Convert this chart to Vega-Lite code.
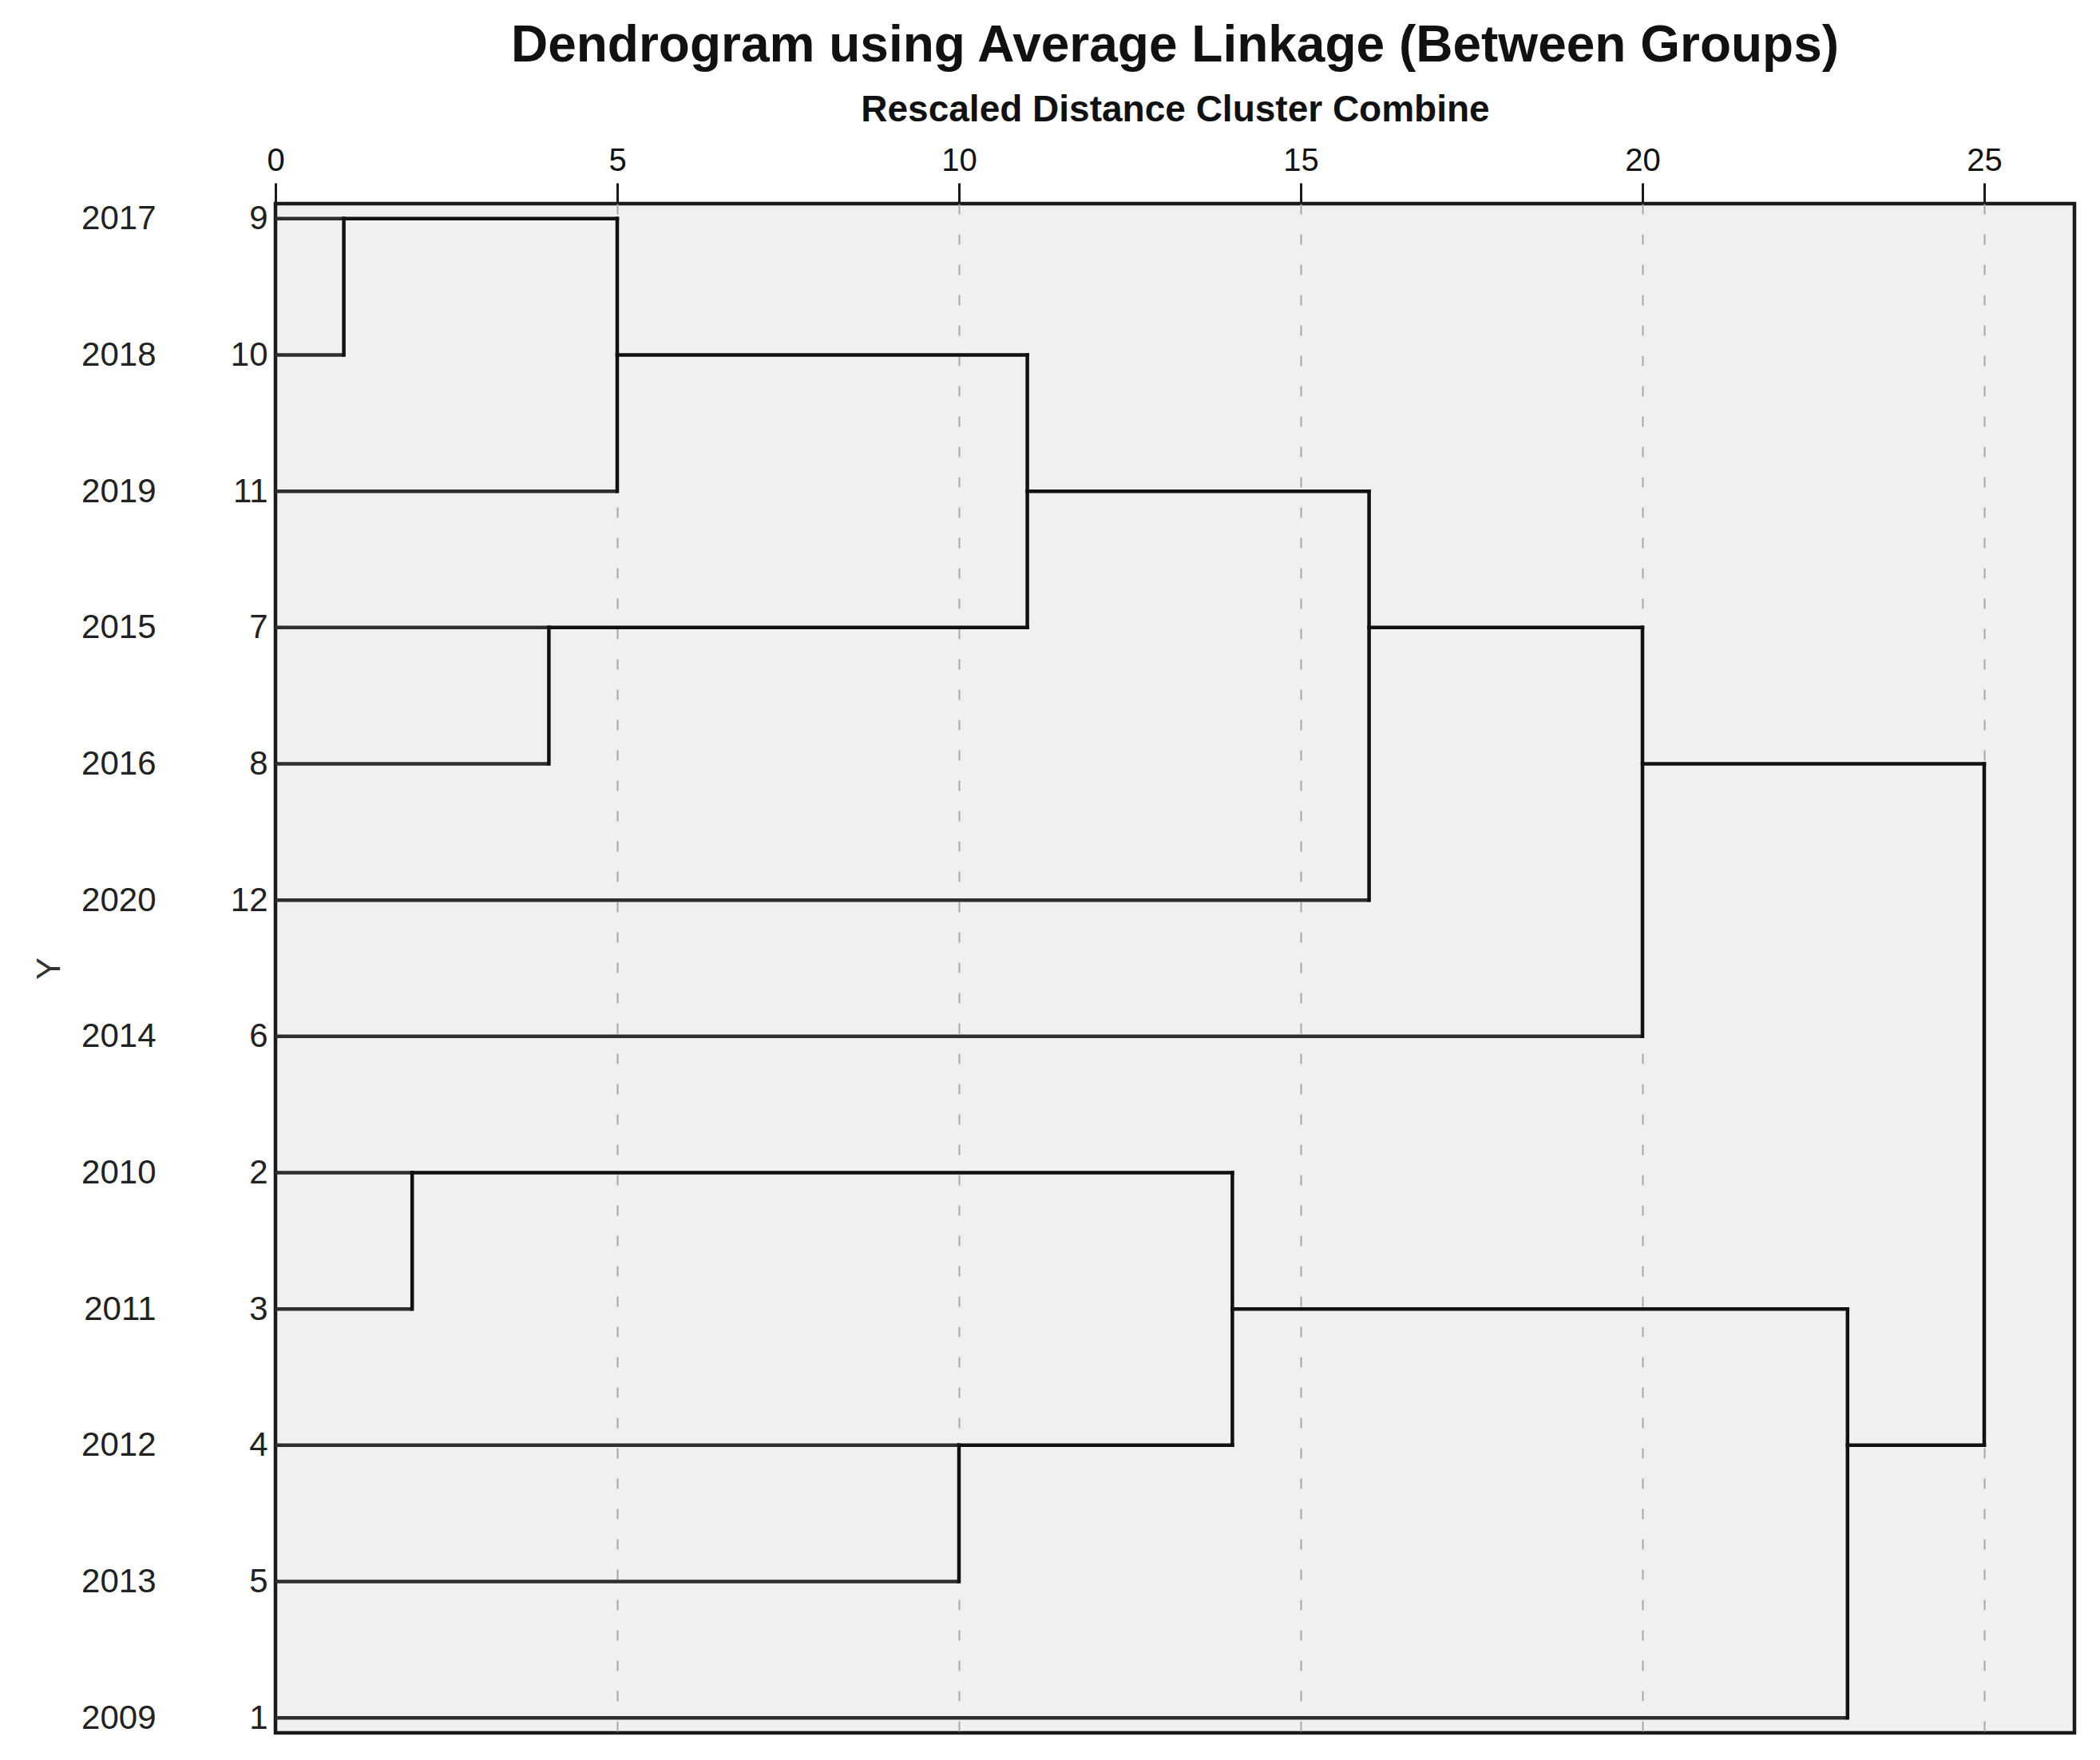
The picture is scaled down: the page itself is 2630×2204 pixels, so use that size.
{
  "$schema": "https://vega.github.io/schema/vega-lite/v6.json",
  "width": 2253,
  "height": 1915,
  "autosize": {"type": "none"},
  "padding": {"left": 345, "top": 255, "right": 32, "bottom": 34},
  "background": "white",
  "config": {
    "font": "Liberation Sans",
    "view": {"fill": "#f0f0f0", "stroke": "#1a1a1a", "strokeWidth": 4.5}
  },
  "title": {
    "text": "Dendrogram using Average Linkage (Between Groups)",
    "fontSize": 64,
    "fontWeight": "bold",
    "font": "Liberation Sans",
    "color": "#111111",
    "anchor": "middle",
    "frame": "group",
    "offset": 24
  },
  "datasets": {
    "leaves": [
      {"row": 1, "case": "9", "year": "2017", "x": 0, "x2": 1},
      {"row": 2, "case": "10", "year": "2018", "x": 0, "x2": 1},
      {"row": 3, "case": "11", "year": "2019", "x": 0, "x2": 5},
      {"row": 4, "case": "7", "year": "2015", "x": 0, "x2": 4},
      {"row": 5, "case": "8", "year": "2016", "x": 0, "x2": 4},
      {"row": 6, "case": "12", "year": "2020", "x": 0, "x2": 16},
      {"row": 7, "case": "6", "year": "2014", "x": 0, "x2": 20},
      {"row": 8, "case": "2", "year": "2010", "x": 0, "x2": 2},
      {"row": 9, "case": "3", "year": "2011", "x": 0, "x2": 2},
      {"row": 10, "case": "4", "year": "2012", "x": 0, "x2": 10},
      {"row": 11, "case": "5", "year": "2013", "x": 0, "x2": 10},
      {"row": 12, "case": "1", "year": "2009", "x": 0, "x2": 23}
    ],
    "links": [
      {"x": 1, "x2": 1, "from": "9", "to": "10"},
      {"x": 1, "x2": 5, "from": "9", "to": "9"},
      {"x": 5, "x2": 5, "from": "9", "to": "11"},
      {"x": 5, "x2": 11, "from": "10", "to": "10"},
      {"x": 4, "x2": 4, "from": "7", "to": "8"},
      {"x": 4, "x2": 11, "from": "7", "to": "7"},
      {"x": 11, "x2": 11, "from": "10", "to": "7"},
      {"x": 11, "x2": 16, "from": "11", "to": "11"},
      {"x": 16, "x2": 16, "from": "11", "to": "12"},
      {"x": 16, "x2": 20, "from": "7", "to": "7"},
      {"x": 20, "x2": 20, "from": "7", "to": "6"},
      {"x": 20, "x2": 25, "from": "8", "to": "8"},
      {"x": 2, "x2": 2, "from": "2", "to": "3"},
      {"x": 2, "x2": 14, "from": "2", "to": "2"},
      {"x": 10, "x2": 10, "from": "4", "to": "5"},
      {"x": 10, "x2": 14, "from": "4", "to": "4"},
      {"x": 14, "x2": 14, "from": "2", "to": "4"},
      {"x": 14, "x2": 23, "from": "3", "to": "3"},
      {"x": 23, "x2": 23, "from": "3", "to": "1"},
      {"x": 23, "x2": 25, "from": "4", "to": "4"},
      {"x": 25, "x2": 25, "from": "8", "to": "4"}
    ]
  },
  "encoding": {
    "x": {
      "field": "x",
      "type": "quantitative",
      "scale": {"domain": [0, 26.32], "nice": false, "zero": false},
      "axis": {
        "orient": "top",
        "values": [0, 5, 10, 15, 20, 25],
        "format": "d",
        "title": "Rescaled Distance Cluster Combine",
        "titleFontSize": 46,
        "titleFontWeight": "bold",
        "titleColor": "#111111",
        "titlePadding": 20,
        "labelFontSize": 40,
        "labelColor": "#111111",
        "labelPadding": 8,
        "labelFlush": false,
        "labelOverlap": false,
        "ticks": true,
        "tickSize": 26,
        "tickWidth": 3,
        "tickColor": "#1a1a1a",
        "domain": false,
        "grid": true,
        "gridDash": [13, 25],
        "gridColor": {"condition": {"test": "datum.value === 0", "value": "transparent"}, "value": "#a8a8a8"},
        "gridWidth": 2
      }
    },
    "x2": {"field": "x2"}
  },
  "layer": [
    {
      "data": {"name": "leaves"},
      "mark": {"type": "rule", "stroke": "#2e2e2e", "strokeWidth": 4.5},
      "encoding": {
        "y": {
          "field": "year",
          "type": "nominal",
          "sort": {"field": "row", "op": "min"},
          "scale": {"type": "point", "padding": 0.11},
          "axis": {
            "orient": "left",
            "offset": 140,
            "ticks": false,
            "domain": false,
            "grid": false,
            "labelPadding": 10,
            "labelFontSize": 42,
            "labelColor": "#222222",
            "title": "Y",
            "titleFontSize": 42,
            "titleFontWeight": "normal",
            "titleColor": "#333333",
            "titlePadding": 18
          }
        }
      }
    },
    {
      "data": {"name": "links"},
      "mark": {"type": "rule", "stroke": "#111111", "strokeWidth": 4.5, "strokeCap": "square"},
      "encoding": {
        "y": {
          "field": "from",
          "type": "nominal",
          "scale": {
            "type": "point",
            "padding": 0.11,
            "domain": ["9", "10", "11", "7", "8", "12", "6", "2", "3", "4", "5", "1"]
          },
          "axis": {
            "orient": "left",
            "offset": 0,
            "ticks": false,
            "domain": false,
            "grid": false,
            "labelPadding": 10,
            "labelFontSize": 42,
            "labelColor": "#222222",
            "title": null
          }
        },
        "y2": {"field": "to"}
      }
    }
  ],
  "resolve": {"scale": {"y": "independent"}, "axis": {"y": "independent"}}
}
